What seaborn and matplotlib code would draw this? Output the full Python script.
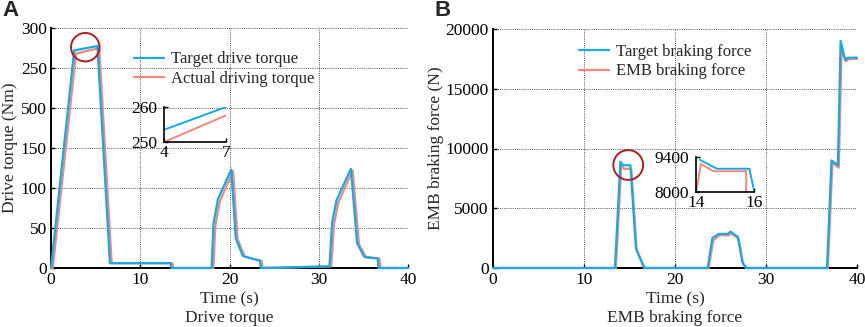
"""
Drive torque / EMB braking force comparison chart
"""

import numpy as np
import pandas as pd
import matplotlib
matplotlib.use('Agg')
import matplotlib.pyplot as plt
import seaborn as sns

# ---- data ----
# panel A: drive torque (Nm)
t_target_torque = [0, 2.6, 5.2, 6.6, 13.4, 13.5, 18.0, 18.2, 18.7, 20.2, 20.7, 21.5,
                   23.4, 23.5, 31.0, 31.2, 31.5, 32.0, 33.6, 34.3, 35.1, 36.6, 36.7, 40]
v_target_torque = [0, 272, 277.5, 6, 6, 0, 0, 55, 86, 123, 37, 15,
                   9, 0, 2, 2, 57, 85, 124, 31, 14, 12, 0, 0]
t_actual_torque = [0, 0.2, 2.8, 5.4, 6.8, 13.6, 13.7, 18.2, 18.4, 18.9, 20.4, 20.9, 21.7,
                   23.6, 23.7, 31.2, 31.4, 31.7, 32.2, 33.8, 34.5, 35.3, 36.8, 36.9, 40]
v_actual_torque = [0, 0, 268, 275, 6, 6, 0, 0, 52, 83, 121, 36, 14,
                   9, 0, 2, 2, 54, 82, 122, 30, 13, 12, 0, 0]

# inset A (4 s .. 7 s)
inset_a_t = [4, 7]
inset_a_target = [253.5, 260]
inset_a_actual = [250, 257.6]

# panel B: EMB braking force (N)
t_target_force = [0, 13.4, 14.0, 14.3, 15.1, 15.7, 16.6, 23.6, 24.1, 24.8, 25.8, 26.1,
                  26.9, 27.4, 27.8, 36.7, 37.2, 37.9, 38.2, 38.7, 39.0, 40]
v_target_force = [0, 0, 8900, 8600, 8600, 1700, 0, 0, 2500, 2850, 2850, 3050,
                  2600, 500, 0, 0, 9000, 8600, 19000, 17400, 17600, 17600]
t_actual_force = [0, 13.5, 14.1, 14.4, 15.2, 15.8, 16.7, 23.7, 24.2, 24.9, 25.9, 26.2,
                  27.0, 27.5, 27.9, 36.8, 37.3, 38.0, 38.3, 38.8, 39.1, 40]
v_actual_force = [0, 0, 8600, 8300, 8300, 1400, 0, 0, 2300, 2750, 2750, 2900,
                  2450, 300, 0, 0, 8800, 8400, 18200, 17300, 17500, 17500]

# inset B (14 s .. 16 s)
inset_b_t_target = [14.13, 14.72, 15.84, 16.0]
inset_b_target = [9290, 8930, 8930, 8070]
inset_b_t_actual = [14.03, 14.17, 14.6, 15.73, 15.73]
inset_b_actual = [8160, 9120, 8830, 8830, 8030]

BLUE = '#18a8e6'
ORANGE = '#f4877a'
RED = '#b01e23'
FS = 12.5
FS_LEG = 12

sns.set_theme(style='white')
plt.rcParams['font.family'] = ['Liberation Serif', 'DejaVu Serif']

W, H = 865, 327
fig = plt.figure(figsize=(W / 100, H / 100), dpi=100)


def px_axes(left, top, right, bottom):
    return fig.add_axes([left / W, 1 - bottom / H, (right - left) / W, (bottom - top) / H])


def style_main(ax, xticks, yticks, ylabels=None):
    ax.set_xticks(xticks)
    ax.set_yticks(yticks)
    if ylabels is not None:
        ax.set_yticklabels(ylabels)
    ax.grid(True, linestyle=(0, (1, 1.2)), color='#555555', linewidth=0.7)
    ax.set_axisbelow(True)
    for s in ['top', 'right']:
        ax.spines[s].set_visible(False)
    for s in ['left', 'bottom']:
        ax.spines[s].set_color('black')
        ax.spines[s].set_linewidth(1.4)
    ax.tick_params(axis='both', direction='in', length=3, width=1, labelsize=FS,
                   colors='black', pad=3, left=True, bottom=True)
    for ln in ax.lines:
        ln.set_clip_on(False)
        ln.set_zorder(3)


def style_inset(ax, xt, yt):
    ax.set_facecolor('none')
    for s in ['top', 'right']:
        ax.spines[s].set_visible(False)
    for s in ['left', 'bottom']:
        ax.spines[s].set_color('black')
        ax.spines[s].set_linewidth(1.2)
    ax.set_xticks(xt)
    ax.set_yticks(yt)
    ax.tick_params(axis='y', direction='in', length=3, width=1, labelsize=FS,
                   colors='black', pad=5, left=True)
    ax.tick_params(axis='x', direction='in', length=3, width=1, labelsize=FS,
                   colors='black', pad=2, bottom=True)
    ax.set_xlabel('')
    ax.set_ylabel('')


# ---------------- panel A ----------------
axA = px_axes(51, 28, 408, 268)
dfA = pd.concat([
    pd.DataFrame({'t': t_target_torque, 'v': v_target_torque, 's': 'Target drive torque'}),
    pd.DataFrame({'t': t_actual_torque, 'v': v_actual_torque, 's': 'Actual driving torque'}),
])
# draw actual first so target sits on top
sns.lineplot(data=dfA[dfA.s == 'Actual driving torque'], x='t', y='v', color=ORANGE,
             lw=1.6, ax=axA, sort=False, estimator=None, label='Actual driving torque')
sns.lineplot(data=dfA[dfA.s == 'Target drive torque'], x='t', y='v', color=BLUE,
             lw=1.6, ax=axA, sort=False, estimator=None, label='Target drive torque')
axA.set_xlim(0, 40)
axA.set_ylim(0, 300)
style_main(axA, [0, 10, 20, 30, 40], [0, 50, 100, 150, 200, 250, 300],
           ['0', '50', '100', '150', '500', '250', '300'])
axA.set_xlabel('Time (s)', fontsize=FS, labelpad=2)
axA.set_ylabel('Drive torque (Nm)', fontsize=FS, labelpad=2)
h, l = axA.get_legend_handles_labels()
axA.legend(h[::-1], l[::-1], loc='upper left', bbox_to_anchor=(0.19, 0.965), frameon=False,
           fontsize=FS_LEG, handlelength=1.8, handletextpad=0.45, labelspacing=0.2)
axA.scatter([3.84], [276], s=420, facecolors='none', edgecolors=RED, linewidths=1.4,
            zorder=5, clip_on=False)

insA = px_axes(164, 107, 226, 142)
sns.lineplot(x=inset_a_t, y=inset_a_target, color=BLUE, lw=1.4, ax=insA)
sns.lineplot(x=inset_a_t, y=inset_a_actual, color=ORANGE, lw=1.4, ax=insA)
insA.set_xlim(4, 7)
insA.set_ylim(250, 260)
style_inset(insA, [4, 7], [250, 260])

fig.text(51 / W + (408 - 51) / W / 2, 1 - 318 / H, 'Drive torque', ha='center', va='center',
         fontsize=FS)
fig.text(2 / W, 1 - 10 / H, 'A', ha='left', va='center', fontsize=16, fontweight='bold',
         family=['Liberation Sans', 'DejaVu Sans'])

# ---------------- panel B ----------------
axB = px_axes(493, 29, 857, 268)
dfB = pd.concat([
    pd.DataFrame({'t': t_target_force, 'v': v_target_force, 's': 'Target braking force'}),
    pd.DataFrame({'t': t_actual_force, 'v': v_actual_force, 's': 'EMB braking force'}),
])
sns.lineplot(data=dfB[dfB.s == 'EMB braking force'], x='t', y='v', color=ORANGE,
             lw=1.6, ax=axB, sort=False, estimator=None, label='EMB braking force')
sns.lineplot(data=dfB[dfB.s == 'Target braking force'], x='t', y='v', color=BLUE,
             lw=1.6, ax=axB, sort=False, estimator=None, label='Target braking force')
axB.set_xlim(0, 40)
axB.set_ylim(0, 20000)
style_main(axB, [0, 10, 20, 30, 40], [0, 5000, 10000, 15000, 20000])
axB.set_xlabel('Time (s)', fontsize=FS, labelpad=2)
axB.set_ylabel('EMB braking force (N)', fontsize=FS, labelpad=1)
h, l = axB.get_legend_handles_labels()
axB.legend(h[::-1], l[::-1], loc='upper left', bbox_to_anchor=(0.195, 1.0), frameon=False,
           fontsize=FS_LEG, handlelength=1.8, handletextpad=0.45, labelspacing=0.2)
axB.scatter([14.86], [8620], s=460, facecolors='none', edgecolors=RED, linewidths=1.4,
            zorder=5, clip_on=False)

insB = px_axes(696, 157, 754, 192)
sns.lineplot(x=inset_b_t_target, y=inset_b_target, color=BLUE, lw=1.4, ax=insB,
             sort=False, estimator=None)
sns.lineplot(x=inset_b_t_actual, y=inset_b_actual, color=ORANGE, lw=1.4, ax=insB,
             sort=False, estimator=None)
insB.set_xlim(14, 16)
insB.set_ylim(8000, 9400)
style_inset(insB, [14, 16], [8000, 9400])

fig.text(493 / W + (857 - 493) / W / 2, 1 - 318 / H, 'EMB braking force', ha='center',
         va='center', fontsize=FS)
fig.text(434 / W, 1 - 10 / H, 'B', ha='left', va='center', fontsize=16, fontweight='bold',
         family=['Liberation Sans', 'DejaVu Sans'])

fig.savefig('out.png', dpi=100)
